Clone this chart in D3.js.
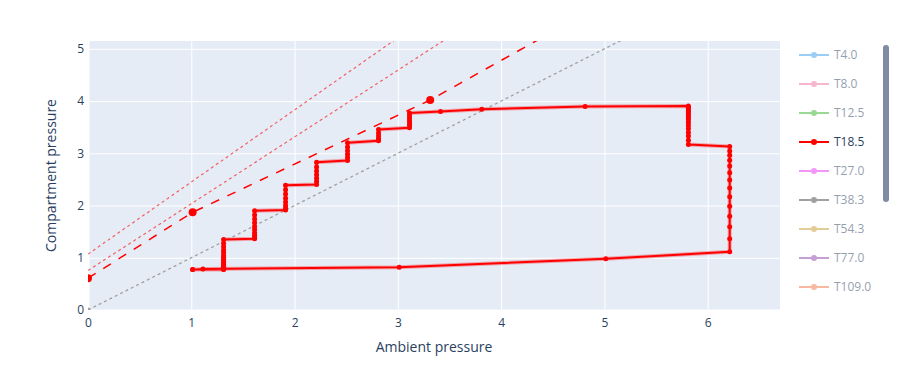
<!DOCTYPE html>
<html>
<head>
<meta charset="utf-8">
<script src="https://cdn.jsdelivr.net/npm/d3@7"></script>
<style>
  html, body { margin: 0; padding: 0; background: #fff; }
  svg { display: block; font-family: "Open Sans", "DejaVu Sans", sans-serif; }
</style>
</head>
<body>
<svg id="chart" width="918" height="379"></svg>
<script>
// ---------------- data ----------------
const xTicks = [0, 1, 2, 3, 4, 5, 6];
const yTicks = [0, 1, 2, 3, 4, 5];
const xTitle = "Ambient pressure";
const yTitle = "Compartment pressure";

const legendNames  = ["T4.0", "T8.0", "T12.5", "T18.5", "T27.0", "T38.3", "T54.3", "T77.0", "T109.0"];
const legendColors = ["#3a9ff0", "#ef6f9f", "#35b52a", "#ff0000", "#e630f0", "#444444", "#c99a2e", "#8e44ad", "#f57545"];
const legendVisible = [false, false, false, true, false, false, false, false, false];

// T18.5 compartment trace: [ambient, compartment]
const profile = [
  [1.013, 0.773], [1.113, 0.787], [3.013, 0.818], [5.013, 0.980], [6.213, 1.113],
  [6.213, 1.363], [6.213, 1.593], [6.213, 1.796], [6.213, 1.988], [6.213, 2.169], [6.213, 2.334],
  [6.213, 2.488], [6.213, 2.630], [6.213, 2.757], [6.213, 2.866], [6.213, 2.962], [6.213, 3.044], [6.213, 3.129],
  [5.813, 3.170], [5.813, 3.25], [5.813, 3.33], [5.813, 3.40], [5.813, 3.47], [5.813, 3.53], [5.813, 3.59],
  [5.813, 3.64], [5.813, 3.69], [5.813, 3.73], [5.813, 3.77], [5.813, 3.80], [5.813, 3.83], [5.813, 3.86],
  [5.813, 3.88], [5.813, 3.905],
  [4.813, 3.895], [3.813, 3.845], [3.413, 3.800], [3.113, 3.770],
  [3.113, 3.72], [3.113, 3.67], [3.113, 3.62], [3.113, 3.57], [3.113, 3.53], [3.113, 3.49],
  [2.813, 3.455], [2.813, 3.39], [2.813, 3.33], [2.813, 3.28], [2.813, 3.24],
  [2.513, 3.200], [2.513, 3.12], [2.513, 3.05], [2.513, 2.98], [2.513, 2.92], [2.513, 2.86],
  [2.213, 2.830], [2.213, 2.74], [2.213, 2.66], [2.213, 2.59], [2.213, 2.52], [2.213, 2.46], [2.213, 2.405],
  [1.913, 2.386], [1.913, 2.30], [1.913, 2.22], [1.913, 2.14], [1.913, 2.07], [1.913, 2.00], [1.913, 1.95], [1.913, 1.915],
  [1.613, 1.900], [1.613, 1.82], [1.613, 1.74], [1.613, 1.67], [1.613, 1.60], [1.613, 1.54], [1.613, 1.48],
  [1.613, 1.43], [1.613, 1.39], [1.613, 1.365],
  [1.313, 1.350], [1.313, 1.28], [1.313, 1.21], [1.313, 1.15], [1.313, 1.10], [1.313, 1.05], [1.313, 1.01],
  [1.313, 0.97], [1.313, 0.94], [1.313, 0.91], [1.313, 0.88], [1.313, 0.86], [1.313, 0.84], [1.313, 0.82],
  [1.313, 0.81], [1.313, 0.80], [1.313, 0.79], [1.313, 0.78], [1.313, 0.775],
  [1.013, 0.773]
];

// gradient-factor limit line (dashed), with its marked points
const gfLine = [[0, 0.61], [1.013, 1.87], [3.313, 4.02], [4.6, 5.44]];
const gfMarkers = [[0, 0.61], [1.013, 1.87], [3.313, 4.02]];
// M-value lines (dotted red)
const mLineLow  = [[0, 0.756], [4.0, 5.87]];
const mLineHigh = [[0, 1.07], [3.6, 6.04]];
// ambient = compartment line (dotted gray)
const ambientLine = [[0, 0], [6.0, 6.0]];

// ---------------- layout ----------------
const W = 918, H = 379;
const plot = { left: 88, right: 780, top: 41, bottom: 310 };
const fontColor = "#2a3f5f";

const svg = d3.select("#chart");
svg.append("rect").attr("width", W).attr("height", H).attr("fill", "#fff");

const x = d3.scaleLinear().domain([0, 6.70]).range([plot.left, plot.right]);
const y = d3.scaleLinear().domain([0, 5.15]).range([plot.bottom, plot.top]);

svg.append("rect")
  .attr("x", plot.left).attr("y", plot.top)
  .attr("width", plot.right - plot.left).attr("height", plot.bottom - plot.top)
  .attr("fill", "#e5ecf6");

svg.append("defs").append("clipPath").attr("id", "clip")
  .append("rect")
  .attr("x", plot.left).attr("y", plot.top)
  .attr("width", plot.right - plot.left).attr("height", plot.bottom - plot.top);

// grid via axes
const gx = svg.append("g").attr("transform", `translate(0,${plot.bottom})`)
  .call(d3.axisBottom(x).tickValues(xTicks).tickSize(-(plot.bottom - plot.top)).tickPadding(8).tickFormat(d3.format("d")));
gx.select(".domain").remove();
gx.selectAll(".tick line").attr("stroke", "#fff").attr("stroke-width", d => d === 0 ? 2 : 1);
gx.selectAll(".tick text").attr("fill", fontColor).attr("font-size", 12).attr("font-family", "Open Sans");

const gy = svg.append("g").attr("transform", `translate(${plot.left},0)`)
  .call(d3.axisLeft(y).tickValues(yTicks).tickSize(-(plot.right - plot.left)).tickPadding(4).tickFormat(d3.format("d")));
gy.select(".domain").remove();
gy.selectAll(".tick line").attr("stroke", "#fff").attr("stroke-width", d => d === 0 ? 2 : 1);
gy.selectAll(".tick text").attr("fill", fontColor).attr("font-size", 12).attr("font-family", "Open Sans");

// axis titles
svg.append("text").attr("x", (plot.left + plot.right) / 2).attr("y", 352)
  .attr("text-anchor", "middle").attr("fill", fontColor).attr("font-size", 14)
  .text(xTitle);
svg.append("text").attr("transform", `translate(56,${(plot.top + plot.bottom) / 2}) rotate(-90)`)
  .attr("text-anchor", "middle").attr("fill", fontColor).attr("font-size", 14)
  .text(yTitle);

// ---------------- traces ----------------
const g = svg.append("g").attr("clip-path", "url(#clip)");
const line = d3.line().x(d => x(d[0])).y(d => y(d[1]));

g.append("path").datum(ambientLine).attr("d", line)
  .attr("fill", "none").attr("stroke", "#a0a0a0").attr("stroke-width", 1.3).attr("stroke-dasharray", "3,3");
g.append("circle").attr("cx", x(0)).attr("cy", y(0)).attr("r", 2.5).attr("fill", "#a0a0a0");

g.append("path").datum(mLineHigh).attr("d", line)
  .attr("fill", "none").attr("stroke", "rgba(255,0,0,0.6)").attr("stroke-width", 1.2).attr("stroke-dasharray", "3,3");
g.append("path").datum(mLineLow).attr("d", line)
  .attr("fill", "none").attr("stroke", "rgba(255,0,0,0.6)").attr("stroke-width", 1.2).attr("stroke-dasharray", "3,3");

g.append("path").datum(gfLine).attr("d", line)
  .attr("fill", "none").attr("stroke", "#ff0000").attr("stroke-width", 1.5).attr("stroke-dasharray", "9,9");
g.selectAll("circle.gf").data(gfMarkers).join("circle").attr("class", "gf")
  .attr("cx", d => x(d[0])).attr("cy", d => y(d[1])).attr("r", 4).attr("fill", "#ff0000");

g.append("path").datum(profile).attr("d", line)
  .attr("fill", "none").attr("stroke", "rgba(255,0,0,0.3)").attr("stroke-width", 4).attr("stroke-linejoin", "round");
g.append("path").datum(profile).attr("d", line)
  .attr("fill", "none").attr("stroke", "#ff0000").attr("stroke-width", 2).attr("stroke-linejoin", "round");
g.selectAll("circle.pt").data(profile).join("circle").attr("class", "pt")
  .attr("cx", d => x(d[0])).attr("cy", d => y(d[1])).attr("r", 2.5).attr("fill", "#ff0000");

// ---------------- legend ----------------
const lg = svg.append("g");
legendNames.forEach((name, i) => {
  const yy = 55 + i * 29;
  const item = lg.append("g").attr("opacity", legendVisible[i] ? 1 : 0.5);
  item.append("line").attr("x1", 799).attr("x2", 829).attr("y1", yy).attr("y2", yy)
    .attr("stroke", legendColors[i]).attr("stroke-width", 2);
  item.append("circle").attr("cx", 814).attr("cy", yy).attr("r", 3).attr("fill", legendColors[i]);
  item.append("text").attr("x", 834).attr("y", yy).attr("dy", "0.35em")
    .attr("fill", fontColor).attr("font-size", 12).text(name);
});
// legend scrollbar
svg.append("rect").attr("x", 883).attr("y", 45).attr("width", 6).attr("height", 157)
  .attr("rx", 3).attr("fill", "#808ba4");
</script>
</body>
</html>
